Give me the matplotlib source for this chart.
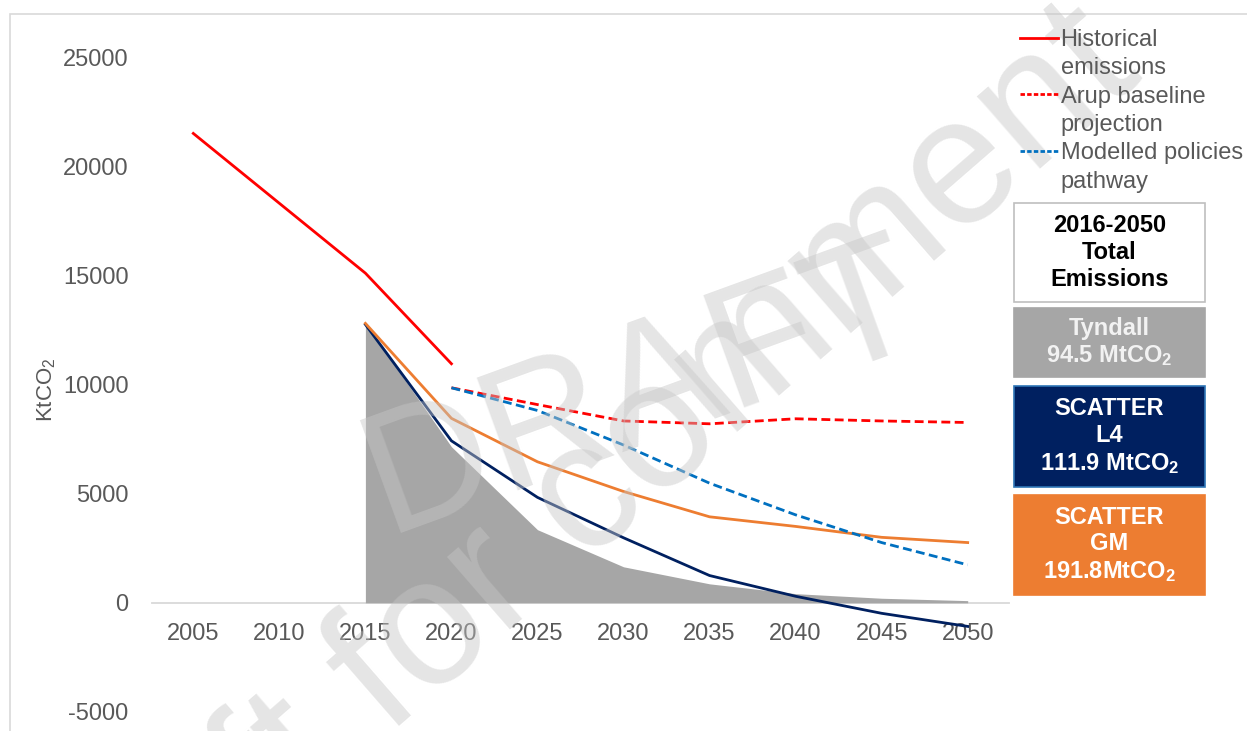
import matplotlib
matplotlib.use("Agg")
import matplotlib.pyplot as plt
from matplotlib.lines import Line2D
from matplotlib.patches import Rectangle

plt.rcParams['font.family'] = ['Liberation Sans', 'DejaVu Sans']
plt.rcParams['mathtext.fontset'] = 'custom'
plt.rcParams['mathtext.rm'] = 'Liberation Sans'
plt.rcParams['mathtext.it'] = 'Liberation Sans:italic'
plt.rcParams['mathtext.bf'] = 'Liberation Sans:bold'

# ---------------- data ----------------
years = [2005, 2010, 2015, 2020, 2025, 2030, 2035, 2040, 2045, 2050]
yticks = [-5000, 0, 5000, 10000, 15000, 20000, 25000]

hist_years = [2005, 2010, 2015, 2020]
historical = [21500, 18300, 15100, 10950]

scen_years = [2015, 2020, 2025, 2030, 2035, 2040, 2045, 2050]
tyndall = [12800, 7150, 3350, 1650, 870, 420, 210, 100]
scatter_l4 = [12750, 7420, 4830, 2980, 1250, 300, -480, -1080]
scatter_gm = [12800, 8450, 6460, 5100, 3940, 3500, 3000, 2760]

proj_years = [2020, 2025, 2030, 2035, 2040, 2045, 2050]
arup_baseline = [9850, 9080, 8330, 8200, 8430, 8330, 8260]
modelled_policies = [9850, 8810, 7230, 5480, 4030, 2760, 1740]

legend_labels = ["Historical", "emissions", "Arup baseline", "projection",
                 "Modelled policies", "pathway"]

box_texts = ["2016-2050\nTotal\nEmissions",
             "Tyndall\n94.5 MtCO$_\\mathbf{2}$",
             "SCATTER\nL4\n111.9 MtCO$_\\mathbf{2}$",
             "SCATTER\nGM\n191.8MtCO$_\\mathbf{2}$"]
box_face = ["#ffffff", "#a6a6a6", "#002060", "#ed7d31"]
box_edge = ["#bfbfbf", "#a6a6a6", "#2e75b6", "#ed7d31"]
box_textcol = ["#000000", "#f2f2f2", "#ffffff", "#ffffff"]

# ---------------- layout helpers ----------------
W, H = 1247, 731
def fx(px):
    return px / W
def fy(py):
    return 1 - py / H

fig = plt.figure(figsize=(W / 100, H / 100), dpi=100)
fig.patch.set_facecolor('white')

# chart frame
fig.add_artist(Rectangle((fx(10), fy(1000)), fx(1400), fy(14) - fy(1000),
                         transform=fig.transFigure, fill=False,
                         edgecolor='#d9d9d9', lw=1.2, zorder=0))

# watermark (behind legend and boxes, above plot)
fig.text(fx(387), fy(533), 'DRAFT', rotation=20, rotation_mode='anchor',
         ha='left', va='baseline', fontsize=125, color='#c6c6c6', alpha=0.45,
         zorder=1.5)
fig.text(fx(55), fy(1025), 'Draft for comment', rotation=41, rotation_mode='anchor',
         ha='left', va='baseline', fontsize=130, color='#c6c6c6', alpha=0.45,
         zorder=1.5)

ax = fig.add_axes([fx(152), fy(712), fx(1009) - fx(152), fy(57) - fy(712)])
ax.set_facecolor('none')
ax.set_zorder(1)

RED = '#ff0000'
BLUE = '#0070c0'
NAVY = '#002060'
ORANGE = '#ed7d31'
GREY = '#a6a6a6'
TXT = '#595959'

ax.fill_between(scen_years, tyndall, 0, color=GREY, lw=0, zorder=1)
ax.plot(scen_years, scatter_l4, color=NAVY, lw=2.0, zorder=3)
ax.plot(scen_years, scatter_gm, color=ORANGE, lw=2.0, zorder=3)
ax.plot(hist_years, historical, color=RED, lw=2.0, zorder=4)
ax.plot(proj_years, arup_baseline, color=RED, lw=2.0, dashes=(3.2, 1.6), zorder=4)
ax.plot(proj_years, modelled_policies, color=BLUE, lw=2.0, dashes=(3.2, 1.6), zorder=4)

ax.set_xlim(2002.6, 2052.4)
ax.set_ylim(-5000, 25000)
ax.set_xticks(years)
ax.set_xticklabels([str(y) for y in years])
ax.set_yticks(yticks)
ax.set_yticklabels([str(v) for v in yticks])

for s in ['top', 'right', 'left']:
    ax.spines[s].set_visible(False)
ax.spines['bottom'].set_position(('data', 0))
ax.spines['bottom'].set_color('#d9d9d9')
ax.spines['bottom'].set_linewidth(1.3)
ax.spines['bottom'].set_zorder(0.5)
ax.tick_params(axis='x', length=0, pad=14.5, labelsize=17, labelcolor=TXT)
ax.tick_params(axis='y', length=0, pad=17, labelsize=17, labelcolor=TXT)

fig.text(fx(47), fy(390), 'KtCO$_\\mathregular{2}$', rotation=90, ha='center',
         va='center', fontsize=16, color=TXT)

# legend: first line of each label carries the handle
handles = [Line2D([], [], color=RED, lw=2.0),
           Line2D([], [], color='none'),
           Line2D([], [], color=RED, lw=2.0, dashes=(1.6, 0.8)),
           Line2D([], [], color='none'),
           Line2D([], [], color=BLUE, lw=2.0, dashes=(1.6, 0.8)),
           Line2D([], [], color='none')]
leg = fig.legend(handles, legend_labels, loc='upper left',
                 bbox_to_anchor=(fx(1020), fy(29)), bbox_transform=fig.transFigure,
                 frameon=False, fontsize=17, labelcolor=TXT, borderpad=0,
                 borderaxespad=0, handlelength=1.6, handletextpad=0.12,
                 labelspacing=0.27)
leg.set_zorder(5)

# summary boxes
box_tops = [203, 308, 386, 495]
box_bottoms = [302, 377, 487, 595]
for t, b, txt, fc, ec, tc in zip(box_tops, box_bottoms, box_texts, box_face,
                                 box_edge, box_textcol):
    fig.add_artist(Rectangle((fx(1014), fy(b)), fx(1205) - fx(1014), fy(t) - fy(b),
                             transform=fig.transFigure, facecolor=fc,
                             edgecolor=ec, lw=1.2, zorder=4))
    fig.text(fx(1109.5), fy((t + b) / 2), txt, ha='center', va='center',
             fontsize=17, fontweight='bold', color=tc, linespacing=1.2,
             zorder=4.5)

fig.savefig('out.png', dpi=100)
